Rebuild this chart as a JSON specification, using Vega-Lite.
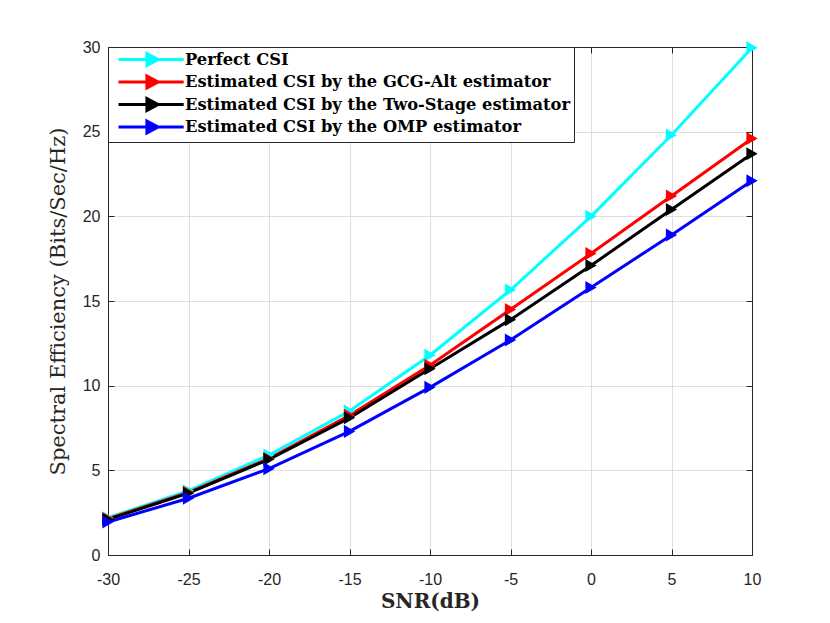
{
  "$schema": "https://vega.github.io/schema/vega-lite/v6.json",
  "width": 644,
  "height": 508,
  "autosize": {"type": "none"},
  "padding": {"left": 108, "top": 47, "right": 78, "bottom": 68},
  "background": "white",
  "data": {
    "values": [
      {"snr": -30, "series": "Perfect CSI", "se": 2.2},
      {"snr": -25, "series": "Perfect CSI", "se": 3.8},
      {"snr": -20, "series": "Perfect CSI", "se": 5.9},
      {"snr": -15, "series": "Perfect CSI", "se": 8.5},
      {"snr": -10, "series": "Perfect CSI", "se": 11.8},
      {"snr": -5, "series": "Perfect CSI", "se": 15.65},
      {"snr": 0, "series": "Perfect CSI", "se": 20.0},
      {"snr": 5, "series": "Perfect CSI", "se": 24.8},
      {"snr": 10, "series": "Perfect CSI", "se": 29.95},
      {"snr": -30, "series": "Estimated CSI by the GCG-Alt estimator", "se": 2.15},
      {"snr": -25, "series": "Estimated CSI by the GCG-Alt estimator", "se": 3.7},
      {"snr": -20, "series": "Estimated CSI by the GCG-Alt estimator", "se": 5.7},
      {"snr": -15, "series": "Estimated CSI by the GCG-Alt estimator", "se": 8.25},
      {"snr": -10, "series": "Estimated CSI by the GCG-Alt estimator", "se": 11.2},
      {"snr": -5, "series": "Estimated CSI by the GCG-Alt estimator", "se": 14.5},
      {"snr": 0, "series": "Estimated CSI by the GCG-Alt estimator", "se": 17.8},
      {"snr": 5, "series": "Estimated CSI by the GCG-Alt estimator", "se": 21.2},
      {"snr": 10, "series": "Estimated CSI by the GCG-Alt estimator", "se": 24.6},
      {"snr": -30, "series": "Estimated CSI by the Two-Stage estimator", "se": 2.1},
      {"snr": -25, "series": "Estimated CSI by the Two-Stage estimator", "se": 3.65},
      {"snr": -20, "series": "Estimated CSI by the Two-Stage estimator", "se": 5.65},
      {"snr": -15, "series": "Estimated CSI by the Two-Stage estimator", "se": 8.1},
      {"snr": -10, "series": "Estimated CSI by the Two-Stage estimator", "se": 11.0},
      {"snr": -5, "series": "Estimated CSI by the Two-Stage estimator", "se": 13.9},
      {"snr": 0, "series": "Estimated CSI by the Two-Stage estimator", "se": 17.1},
      {"snr": 5, "series": "Estimated CSI by the Two-Stage estimator", "se": 20.4},
      {"snr": 10, "series": "Estimated CSI by the Two-Stage estimator", "se": 23.7},
      {"snr": -30, "series": "Estimated CSI by the OMP estimator", "se": 1.95},
      {"snr": -25, "series": "Estimated CSI by the OMP estimator", "se": 3.35},
      {"snr": -20, "series": "Estimated CSI by the OMP estimator", "se": 5.1},
      {"snr": -15, "series": "Estimated CSI by the OMP estimator", "se": 7.3},
      {"snr": -10, "series": "Estimated CSI by the OMP estimator", "se": 9.9},
      {"snr": -5, "series": "Estimated CSI by the OMP estimator", "se": 12.7},
      {"snr": 0, "series": "Estimated CSI by the OMP estimator", "se": 15.8},
      {"snr": 5, "series": "Estimated CSI by the OMP estimator", "se": 18.9},
      {"snr": 10, "series": "Estimated CSI by the OMP estimator", "se": 22.1}
    ]
  },
  "layer": [
    {
      "mark": {"type": "line", "strokeWidth": 3, "clip": false},
      "encoding": {
        "x": {
          "field": "snr", "type": "quantitative",
          "scale": {"domain": [-30, 10], "nice": false},
          "axis": {
            "title": "SNR(dB)", "values": [-30, -25, -20, -15, -10, -5, 0, 5, 10],
            "labelExpr": "datum.value + ''", "labelFlush": false,
            "grid": true, "gridColor": "#dedede", "tickSize": -6, "labelPadding": 22,
            "domainColor": "#262626", "tickColor": "#262626",
            "labelFont": "Liberation Sans", "labelFontSize": 16, "labelColor": "#262626",
            "titleFont": "DejaVu Serif", "titleFontWeight": "bold", "titleFontSize": 20,
            "titleColor": "#262626", "titlePadding": 4
          }
        },
        "y": {
          "field": "se", "type": "quantitative",
          "scale": {"domain": [0, 30], "nice": false},
          "axis": {
            "title": "Spectral Efficiency (Bits/Sec/Hz)", "values": [0, 5, 10, 15, 20, 25, 30],
            "labelFlush": false,
            "grid": true, "gridColor": "#dedede", "tickSize": -6, "labelPadding": 14,
            "domainColor": "#262626", "tickColor": "#262626",
            "labelFont": "Liberation Sans", "labelFontSize": 16, "labelColor": "#262626",
            "titleFont": "DejaVu Serif", "titleFontWeight": 500, "titleFontSize": 21,
            "titleColor": "#262626", "titlePadding": 14
          }
        },
        "color": {
          "field": "series", "type": "nominal",
          "sort": ["Perfect CSI", "Estimated CSI by the GCG-Alt estimator", "Estimated CSI by the Two-Stage estimator", "Estimated CSI by the OMP estimator"],
          "scale": {
            "domain": ["Perfect CSI", "Estimated CSI by the GCG-Alt estimator", "Estimated CSI by the Two-Stage estimator", "Estimated CSI by the OMP estimator"],
            "range": ["#00ffff", "#ff0000", "#000000", "#0000ff"]
          },
          "legend": {
            "title": null, "orient": "top-left", "offset": 0,
            "strokeColor": "#262626", "fillColor": "white", "padding": 3,
            "symbolType": "M-0.25,0H7.9M3.3,-0.75L4.7,0L3.3,0.75Z",
            "symbolSize": 256, "symbolStrokeWidth": 3, "symbolOpacity": 1,
            "labelFont": "DejaVu Serif", "labelFontWeight": "bold", "labelFontSize": 16.3,
            "labelColor": "#000000", "labelOffset": 55, "rowPadding": -2.5, "labelLimit": 600,
            "encode": {
              "symbols": {
                "update": {
                  "fill": {"scale": "color", "field": "value"},
                  "stroke": {"scale": "color", "field": "value"},
                  "strokeWidth": {"value": 3},
                  "opacity": {"value": 1}
                }
              }
            }
          }
        },
        "order": {"field": "snr", "type": "quantitative"}
      }
    },
    {
      "mark": {"type": "point", "shape": "triangle-right", "filled": true, "size": 170, "opacity": 1, "clip": false},
      "encoding": {
        "x": {
          "field": "snr", "type": "quantitative",
          "axis": {
            "orient": "top", "title": null, "labels": false, "grid": false,
            "values": [-30, -25, -20, -15, -10, -5, 0, 5, 10],
            "tickSize": -6, "domainColor": "#262626", "tickColor": "#262626"
          }
        },
        "y": {
          "field": "se", "type": "quantitative",
          "axis": {
            "orient": "right", "title": null, "labels": false, "grid": false,
            "values": [0, 5, 10, 15, 20, 25, 30],
            "tickSize": -6, "domainColor": "#262626", "tickColor": "#262626"
          }
        },
        "color": {"field": "series", "type": "nominal"}
      }
    }
  ],
  "resolve": {"axis": {"x": "independent", "y": "independent"}},
  "config": {
    "view": {"stroke": "#262626"},
    "axis": {"domainWidth": 1}
  }
}
